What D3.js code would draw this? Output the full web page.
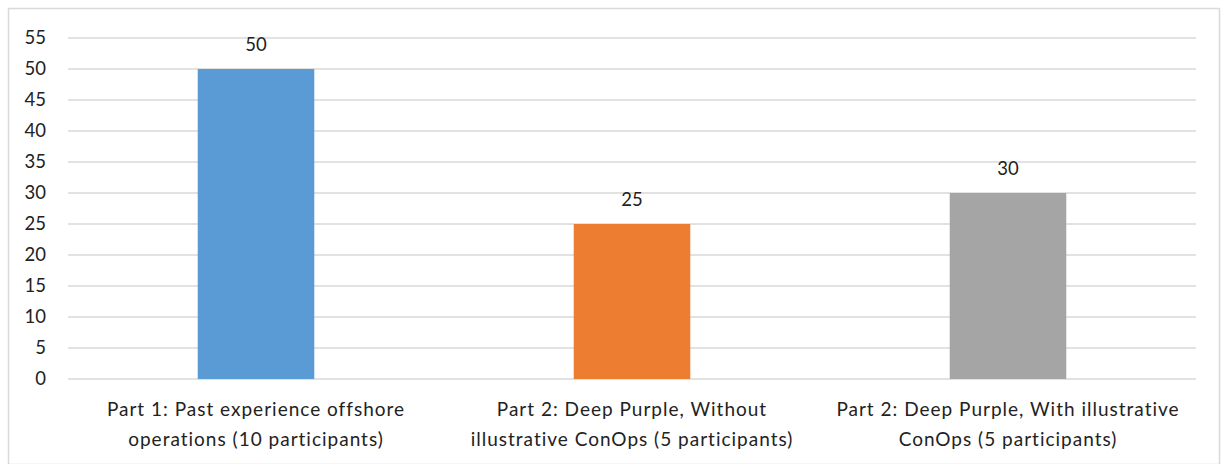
<!DOCTYPE html>
<html>
<head>
<meta charset="utf-8">
<script src="https://cdn.jsdelivr.net/npm/d3@7"></script>
<style>
  body { margin: 0; background: #fff; }
  svg { display: block; font-family: Lato, "Open Sans", sans-serif; }
</style>
</head>
<body>
<svg id="chart" width="1222" height="464"></svg>
<script>
// ---- data ----
const categories = [
    ["Part 1: Past experience offshore", "operations (10 participants)"],
    ["Part 2: Deep Purple, Without", "illustrative ConOps (5 participants)"],
    ["Part 2: Deep Purple, With illustrative", "ConOps (5 participants)"]
];
const values = [50, 25, 30];
const colors = ["#5b9bd5", "#ed7d31", "#a5a5a5"];
const yTicks = [0, 5, 10, 15, 20, 25, 30, 35, 40, 45, 50, 55];

// ---- layout ----
const W = 1222, H = 464;
const margin = { top: 38, right: 26, bottom: 85, left: 68 };
const svg = d3.select('#chart');

// outer frame
svg.append('rect')
    .attr('x', 8.5).attr('y', 8.5)
    .attr('width', W - 11).attr('height', H - 8)
    .attr('fill', 'none')
    .attr('stroke', '#d9d9d9')
    .attr('stroke-width', 1.5);

const x = d3.scaleBand()
    .domain(d3.range(values.length))
    .range([margin.left, W - margin.right])
    .paddingInner(0.69)
    .paddingOuter(0.345);

const y = d3.scaleLinear()
    .domain([0, 55])
    .range([H - margin.bottom, margin.top]);

// gridlines
svg.append('g')
    .selectAll('line')
    .data(yTicks)
    .enter()
    .append('line')
    .attr('x1', margin.left)
    .attr('x2', W - margin.right)
    .attr('y1', d => y(d))
    .attr('y2', d => y(d))
    .attr('stroke', '#d9d9d9')
    .attr('stroke-width', 1.5);

// y axis labels
const yAxis = d3.axisLeft(y).tickValues(yTicks).tickSize(0).tickPadding(22);
svg.append('g')
    .attr('transform', `translate(${margin.left},0)`)
    .call(yAxis)
    .call(g => g.select('.domain').remove())
    .call(g => g.selectAll('text')
        .attr('font-size', 18.5)
        .attr('fill', '#222')
        .attr('font-family', 'Lato, "Open Sans", sans-serif'));

// bars
svg.append('g')
    .selectAll('rect')
    .data(values)
    .enter()
    .append('rect')
    .attr('x', (d, i) => x(i))
    .attr('y', d => y(d))
    .attr('width', x.bandwidth())
    .attr('height', d => y(0) - y(d))
    .attr('fill', (d, i) => colors[i]);

// value labels
svg.append('g')
    .selectAll('text')
    .data(values)
    .enter()
    .append('text')
    .attr('x', (d, i) => x(i) + x.bandwidth() / 2)
    .attr('y', d => y(d) - 18)
    .attr('text-anchor', 'middle')
    .attr('font-size', 18.5)
    .attr('fill', '#222')
    .text(d => d);

// category labels
const catG = svg.append('g');
categories.forEach((lines, i) => {
    const cx = x(i) + x.bandwidth() / 2;
    lines.forEach((line, j) => {
        catG.append('text')
            .attr('x', cx)
            .attr('y', y(0) + 37 + j * 30)
            .attr('text-anchor', 'middle')
            .attr('font-size', 19)
            .attr('letter-spacing', 1)
            .attr('fill', '#222')
            .text(line);
    });
});
</script>
</body>
</html>
